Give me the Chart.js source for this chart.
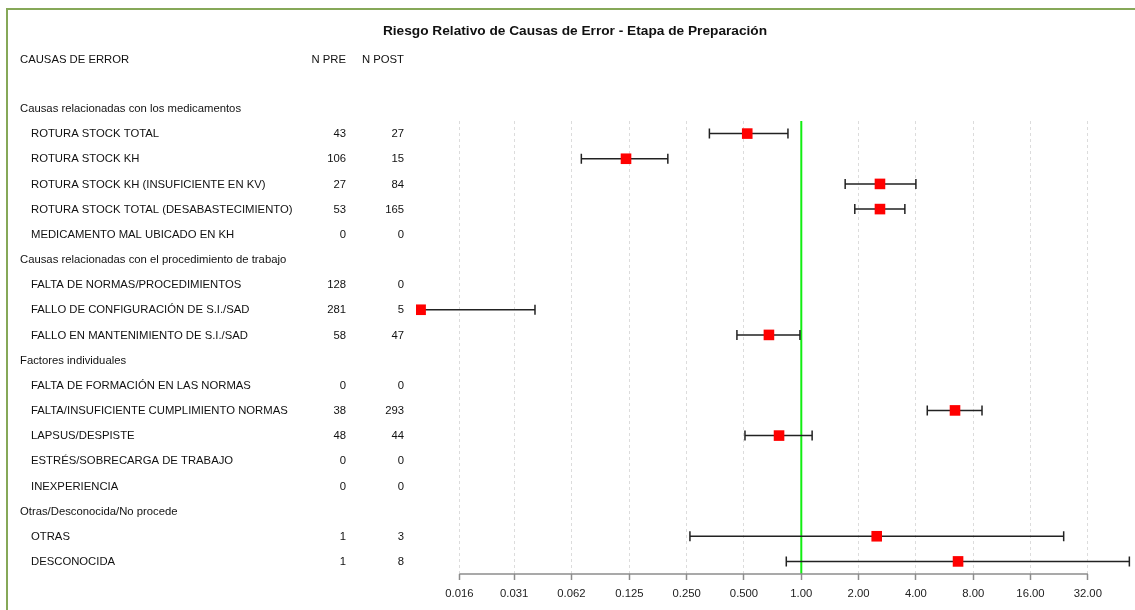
<!DOCTYPE html>
<html>
<head>
<meta charset="utf-8">
<script src="https://cdn.jsdelivr.net/npm/chart.js@4"></script>
<style>
  html, body { margin: 0; padding: 0; background: #fff; overflow: hidden; }
  #wrap { position: relative; width: 1135px; height: 610px; }
  #frame { position: absolute; left: 6px; top: 8px; width: 2000px; height: 2000px;
           border-left: 2px solid #86a858; border-top: 2px solid #86a858; }
  canvas { position: absolute; left: 0; top: 0; }
</style>
</head>
<body>
<div id="wrap">
  <div id="frame"></div>
  <canvas id="c" width="1135" height="610"></canvas>
</div>
<script>
// table rows, top to bottom (group headings have no counts)
const rowLabels = [
  'Causas relacionadas con los medicamentos',
  'ROTURA STOCK TOTAL',
  'ROTURA STOCK KH',
  'ROTURA STOCK KH (INSUFICIENTE EN KV)',
  'ROTURA STOCK TOTAL (DESABASTECIMIENTO)',
  'MEDICAMENTO MAL UBICADO EN KH',
  'Causas relacionadas con el procedimiento de trabajo',
  'FALTA DE NORMAS/PROCEDIMIENTOS',
  'FALLO DE CONFIGURACIÓN DE S.I./SAD',
  'FALLO EN MANTENIMIENTO DE S.I./SAD',
  'Factores individuales',
  'FALTA DE FORMACIÓN EN LAS NORMAS',
  'FALTA/INSUFICIENTE CUMPLIMIENTO NORMAS',
  'LAPSUS/DESPISTE',
  'ESTRÉS/SOBRECARGA DE TRABAJO',
  'INEXPERIENCIA',
  'Otras/Desconocida/No procede',
  'OTRAS',
  'DESCONOCIDA'
];
const isGroup = [1,0,0,0,0,0,1,0,0,0,1,0,0,0,0,0,1,0,0];
const nPre  = [null,43,106,27,53,0,null,128,281,58,null,0,38,48,0,0,null,1,1];
const nPost = [null,27,15,84,165,0,null,0,5,47,null,0,293,44,0,0,null,3,8];

// relative risk and its interval (null = not estimable)
const rr     = [null,0.520,0.120,2.59,2.59,null,null,null,0.0100,0.676,null,null,6.42,0.764,null,null,null,2.49,6.66];
const rrLow  = [null,0.329,0.0699,1.70,1.91,null,null,null,0.0025,0.459,null,null,4.59,0.506,null,null,null,0.260,0.834];
const rrHigh = [null,0.851,0.199,4.00,3.50,null,null,null,0.0399,0.984,null,null,8.90,1.14,null,null,null,23.9,52.9];

const tickValues = [0.016,0.031,0.062,0.125,0.25,0.5,1,2,4,8,16,32];
const tickLabels = ['0.016','0.031','0.062','0.125','0.250','0.500','1.00','2.00','4.00','8.00','16.00','32.00'];

const FONT = '"Liberation Sans", Arial, Helvetica, sans-serif';

const points = [];
rr.forEach((v, i) => { if (v !== null) points.push({ x: v, y: i }); });

const forestPlugin = {
  id: 'forest',
  afterDatasetDraw(chart, args) {
    if (args.index !== 1) return; // after reference line, before squares
    const xs = chart.scales.x, ys = chart.scales.y, ca = chart.chartArea;
    const ctx = chart.ctx;
    ctx.save();
    ctx.strokeStyle = '#222';
    ctx.lineWidth = 1.5;
    rr.forEach((v, i) => {
      if (v === null) return;
      const y = ys.getPixelForValue(i);
      let x1 = xs.getPixelForValue(rrLow[i]), x2 = xs.getPixelForValue(rrHigh[i]);
      const cap1 = x1 >= ca.left, cap2 = x2 <= ca.right;
      x1 = Math.max(x1, ca.left); x2 = Math.min(x2, ca.right);
      ctx.beginPath();
      ctx.moveTo(x1, y); ctx.lineTo(x2, y);
      if (cap1) { ctx.moveTo(x1, y - 5); ctx.lineTo(x1, y + 5); }
      if (cap2) { ctx.moveTo(x2, y - 5); ctx.lineTo(x2, y + 5); }
      ctx.stroke();
    });
    ctx.restore();
  },
  afterDraw(chart) {
    const xs = chart.scales.x, ys = chart.scales.y, ca = chart.chartArea;
    const ctx = chart.ctx;
    ctx.save();
    // axis line between first and last tick
    ctx.strokeStyle = '#8c8c8c';
    ctx.lineWidth = 1.5;
    ctx.beginPath();
    ctx.moveTo(xs.getPixelForValue(tickValues[0]), ca.bottom);
    ctx.lineTo(xs.getPixelForValue(tickValues[tickValues.length - 1]), ca.bottom);
    ctx.stroke();

    ctx.fillStyle = '#111';
    ctx.textBaseline = 'middle';
    ctx.font = 'bold 13.7px ' + FONT;
    ctx.textAlign = 'center';
    ctx.fillText('Riesgo Relativo de Causas de Error - Etapa de Preparación', 575, 31);

    ctx.font = '11.3px ' + FONT;
    const hy = ys.getPixelForValue(-2) + 2;
    ctx.textAlign = 'left';
    ctx.fillText('CAUSAS DE ERROR', 20, hy);
    ctx.textAlign = 'right';
    ctx.fillText('N PRE', 346, hy);
    ctx.fillText('N POST', 404, hy);

    rowLabels.forEach((lab, i) => {
      const y = ys.getPixelForValue(i) + 0.5;
      ctx.textAlign = 'left';
      ctx.fillText(lab, isGroup[i] ? 20 : 31, y);
      ctx.textAlign = 'right';
      if (nPre[i] !== null) ctx.fillText(String(nPre[i]), 346, y);
      if (nPost[i] !== null) ctx.fillText(String(nPost[i]), 404, y);
    });
    ctx.restore();
  }
};

new Chart(document.getElementById('c'), {
  type: 'scatter',
  data: {
    datasets: [
      {
        label: 'RR',
        data: points,
        pointStyle: 'rect',
        pointRadius: 7.5,
        pointHoverRadius: 7.5,
        pointBorderWidth: 0,
        backgroundColor: '#ff0000',
        borderColor: '#ff0000',
        order: 0
      },
      {
        label: 'ref',
        data: [{ x: 1, y: -1 }, { x: 1, y: 20 }],
        showLine: true,
        pointRadius: 0,
        borderColor: '#11ee11',
        borderWidth: 2,
        order: 1
      }
    ]
  },
  options: {
    responsive: false,
    animation: false,
    events: [],
    layout: { autoPadding: false, padding: { left: 416, right: 4, top: 121, bottom: 0 } },
    plugins: { legend: { display: false }, tooltip: { enabled: false }, title: { display: false } },
    scales: {
      x: {
        type: 'logarithmic',
        min: 0.00946,
        max: 53.96,
        afterBuildTicks: (scale) => { scale.ticks = tickValues.map(v => ({ value: v })); },
        afterFit: (scale) => { scale.height = 36; },
        ticks: {
          autoSkip: false,
          maxRotation: 0,
          padding: 7,
          color: '#222',
          font: { family: FONT, size: 11.3 },
          callback: (v, i) => tickLabels[i]
        },
        grid: { color: '#dcdcdc', lineWidth: 1, tickColor: '#8c8c8c', tickLength: 6, tickWidth: 1.5 },
        border: { display: false, dash: [3, 3] }
      },
      y: {
        type: 'linear',
        display: false,
        reverse: true,
        min: 0.5,
        max: 18.5
      }
    }
  },
  plugins: [forestPlugin]
});
</script>
</body>
</html>
